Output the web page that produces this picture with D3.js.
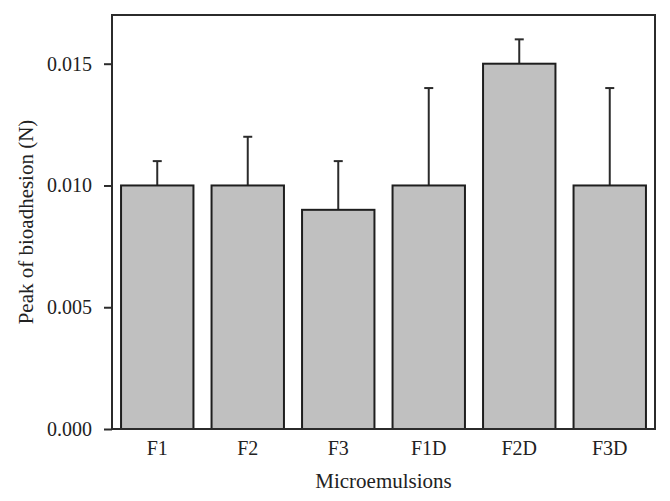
<!DOCTYPE html>
<html>
<head>
<meta charset="utf-8">
<script src="https://cdn.jsdelivr.net/npm/d3@7"></script>
<style>
  body { margin: 0; background: #fff; }
  svg { display: block; }
  text { font-family: "Liberation Serif", "DejaVu Serif", serif; fill: #222; }
</style>
</head>
<body>
<svg id="chart" width="670" height="501"></svg>
<script>
const categories = ["F1", "F2", "F3", "F1D", "F2D", "F3D"];
const peaks = [0.010, 0.010, 0.009, 0.010, 0.015, 0.010];
const errors = [0.001, 0.002, 0.002, 0.004, 0.001, 0.004];
const yTicks = [0, 0.005, 0.010, 0.015];

const svg = d3.select("#chart");
const plotLeft = 112, plotRight = 655, plotTop = 15, plotBottom = 429;
const ink = "#2b2b2b";

const x = d3.scaleBand()
  .domain(categories)
  .range([plotLeft, plotRight])
  .paddingInner(0.2)
  .paddingOuter(0.1);

const y = d3.scaleLinear()
  .domain([0, 0.017])
  .range([plotBottom, plotTop]);

const data = categories.map((c, i) => ({ cat: c, v: peaks[i], e: errors[i] }));

// error bars (drawn first so the bar outline covers the stem base)
const err = svg.append("g").attr("class", "errors")
  .attr("stroke", ink).attr("stroke-width", 2);

err.selectAll(".stem")
  .data(data)
  .join("line")
  .attr("class", "stem")
  .attr("x1", d => x(d.cat) + x.bandwidth() / 2)
  .attr("x2", d => x(d.cat) + x.bandwidth() / 2)
  .attr("y1", d => y(d.v))
  .attr("y2", d => y(d.v + d.e));

err.selectAll(".cap")
  .data(data)
  .join("line")
  .attr("class", "cap")
  .attr("x1", d => x(d.cat) + x.bandwidth() / 2 - 4.5)
  .attr("x2", d => x(d.cat) + x.bandwidth() / 2 + 4.5)
  .attr("y1", d => y(d.v + d.e))
  .attr("y2", d => y(d.v + d.e));

svg.append("g").attr("class", "bars")
  .selectAll("rect")
  .data(data)
  .join("rect")
  .attr("x", d => x(d.cat))
  .attr("width", x.bandwidth())
  .attr("y", d => y(d.v))
  .attr("height", d => y(0) - y(d.v))
  .attr("fill", "#c0c0c0")
  .attr("stroke", "#1e1e1e")
  .attr("stroke-width", 2);

// frame
svg.append("rect")
  .attr("x", plotLeft).attr("y", plotTop)
  .attr("width", plotRight - plotLeft).attr("height", plotBottom - plotTop)
  .attr("fill", "none")
  .attr("stroke", ink)
  .attr("stroke-width", 2);

// y axis
const yAxis = svg.append("g")
  .attr("transform", `translate(${plotLeft},0)`)
  .call(d3.axisLeft(y)
    .tickValues(yTicks)
    .tickFormat(d3.format(".3f"))
    .tickSize(8)
    .tickSizeOuter(0)
    .tickPadding(12));

yAxis.select(".domain").remove();
yAxis.selectAll("line").attr("stroke", ink).attr("stroke-width", 2);
yAxis.selectAll("text")
  .attr("font-family", "Liberation Serif, DejaVu Serif, serif")
  .attr("font-size", 20)
  .attr("fill", "#222");

// x labels
svg.append("g")
  .selectAll("text")
  .data(categories)
  .join("text")
  .attr("x", d => x(d) + x.bandwidth() / 2)
  .attr("y", 455)
  .attr("text-anchor", "middle")
  .attr("font-size", 20)
  .text(d => d);

svg.append("text")
  .attr("x", (plotLeft + plotRight) / 2)
  .attr("y", 488)
  .attr("text-anchor", "middle")
  .attr("font-size", 21)
  .text("Microemulsions");

svg.append("text")
  .attr("transform", `translate(33,${(plotTop + plotBottom) / 2}) rotate(-90)`)
  .attr("text-anchor", "middle")
  .attr("font-size", 21)
  .text("Peak of bioadhesion (N)");
</script>
</body>
</html>
